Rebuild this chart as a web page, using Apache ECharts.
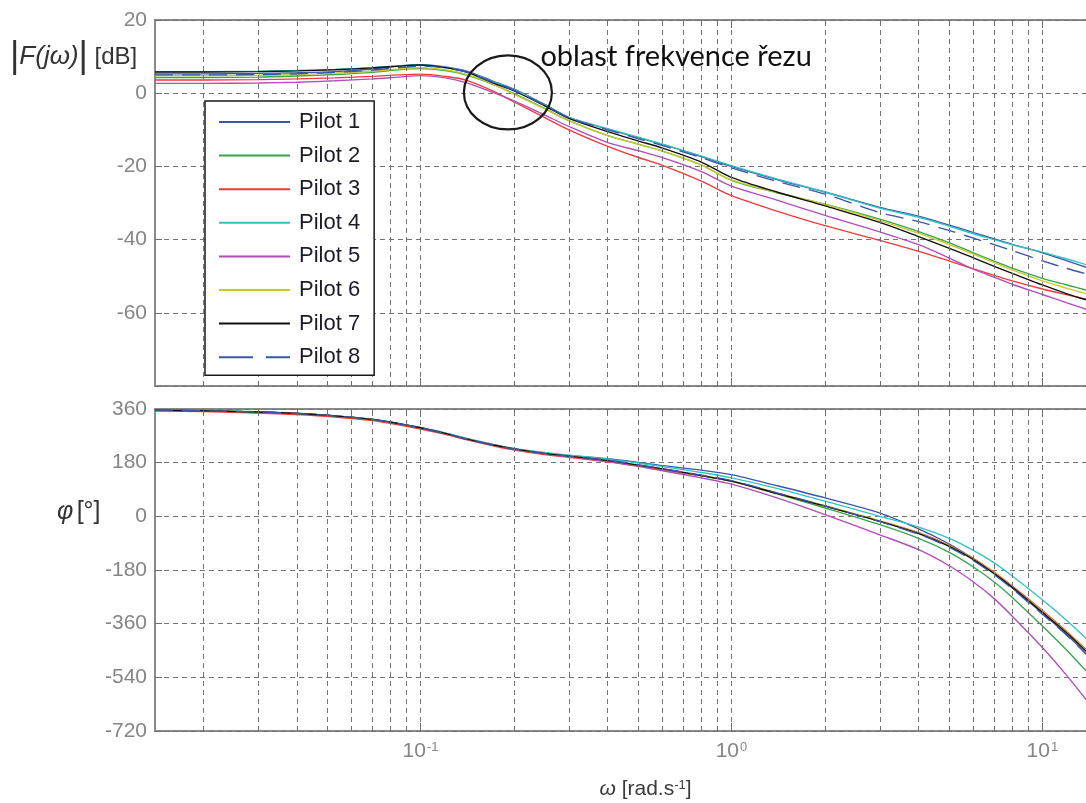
<!DOCTYPE html>
<html>
<head>
<meta charset="utf-8">
<script src="https://cdn.jsdelivr.net/npm/echarts@6/dist/echarts.min.js"></script>
<style>
  html, body { margin: 0; padding: 0; background: #ffffff; }
  #chart { width: 1086px; height: 803px; }
</style>
</head>
<body>
<div id="chart"></div>
<script>
// Angular frequency samples [rad/s]
const omega = [0.014, 0.02, 0.03, 0.04, 0.053, 0.07, 0.085, 0.1, 0.12, 0.14, 0.17, 0.2, 0.25, 0.3,
               0.4, 0.5, 0.6, 0.8, 1, 1.4, 2, 3, 4, 5, 6, 7, 8, 10, 12, 14];

const pilotNames = ['Pilot 1', 'Pilot 2', 'Pilot 3', 'Pilot 4', 'Pilot 5', 'Pilot 6', 'Pilot 7', 'Pilot 8'];
const pilotColors = ['#3c55a8', '#36a64a', '#f03a3a', '#33c2c2', '#b24cb8', '#c9c92a', '#111111', '#3c55a8'];

// Amplitude |F(jw)| [dB]
const magPilot1 = [5.3, 5.3, 5.4, 5.6, 5.9, 6.6, 7.4, 7.8, 7.2, 6.1, 3.4, 1.1, -3.0, -6.6,
                   -9.8, -12.1, -14.0, -17.3, -20.0, -23.6, -27.0, -31.2, -33.6, -36.0, -38.1, -39.8, -41.3, -43.6, -45.8, -47.7];
const magPilot2 = [4.3, 4.3, 4.4, 4.7, 5.1, 5.7, 6.4, 6.7, 6.2, 5.0, 2.5, -0.1, -4.1, -7.5,
                   -11.6, -13.9, -15.8, -19.6, -23.8, -27.2, -30.3, -34.4, -37.8, -40.8, -43.6, -45.9, -47.8, -50.6, -52.4, -53.9];
const magPilot3 = [3.6, 3.6, 3.7, 3.9, 4.2, 4.6, 5.0, 5.2, 4.6, 3.6, 0.7, -2.4, -6.6, -10.0,
                   -14.5, -17.5, -19.7, -24.0, -28.0, -32.2, -36.2, -40.2, -43.2, -45.8, -48.0, -49.8, -51.3, -53.5, -55.1, -56.4];
const magPilot4 = [5.9, 5.9, 6.0, 6.2, 6.5, 7.0, 7.5, 7.8, 7.0, 5.9, 3.2, 1.0, -3.1, -6.6,
                   -9.7, -12.0, -13.9, -17.2, -19.8, -23.4, -27.0, -31.4, -33.9, -36.3, -38.4, -40.0, -41.4, -43.4, -45.3, -47.0];
const magPilot5 = [2.7, 2.7, 2.8, 3.0, 3.4, 3.9, 4.4, 4.8, 4.2, 2.9, 0.3, -2.1, -5.9, -9.1,
                   -13.5, -15.7, -17.6, -21.4, -25.4, -29.2, -33.4, -37.9, -41.4, -45.0, -48.1, -50.3, -52.2, -55.0, -57.3, -59.2];
const magPilot6 = [4.8, 4.8, 4.9, 5.1, 5.5, 6.0, 6.6, 7.0, 6.4, 5.2, 2.6, -0.3, -4.2, -7.5,
                   -11.6, -13.9, -15.8, -19.6, -23.7, -27.1, -30.4, -34.8, -38.3, -41.3, -44.0, -46.3, -48.3, -51.3, -53.3, -54.9];
const magPilot7 = [5.8, 5.8, 5.9, 6.1, 6.4, 6.9, 7.4, 7.7, 7.0, 5.8, 2.9, 0.6, -3.4, -6.9,
                   -10.5, -13.0, -15.0, -18.8, -23.0, -27.0, -30.8, -35.3, -39.2, -42.3, -45.0, -47.3, -49.2, -52.4, -54.8, -56.6];
const magPilot8 = [5.0, 5.0, 5.1, 5.3, 5.7, 6.3, 7.0, 7.4, 6.9, 5.8, 3.1, 0.8, -3.2, -6.7,
                   -10.0, -12.4, -14.3, -17.6, -20.4, -24.1, -27.6, -32.6, -35.1, -37.5, -39.6, -41.4, -43.0, -45.8, -47.9, -49.5];

// Phase φ [deg]
const phasePilot1 = [356, 354, 350, 345, 337, 325, 311, 297, 279, 261, 241, 227, 213, 204,
                     193, 181, 170, 155, 140, 103, 62, 11, -42, -92, -142, -192, -240, -325, -398, -466];
const phasePilot2 = [356, 354, 350, 345, 337, 325, 311, 296, 277, 259, 239, 225, 210, 201,
                     186, 171, 157, 136, 117, 75, 28, -28, -74, -120, -170, -220, -272, -368, -450, -525];
const phasePilot3 = [353, 351, 346, 341, 333, 321, 307, 293, 275, 257, 237, 222, 207, 198,
                     183, 169, 156, 136, 118, 77, 34, -16, -55, -97, -142, -188, -234, -316, -387, -452];
const phasePilot4 = [357, 355, 351, 346, 338, 326, 312, 298, 280, 262, 242, 228, 214, 205,
                     192, 179, 167, 147, 129, 94, 51, 0, -36, -73, -114, -156, -200, -280, -350, -415];
const phasePilot5 = [356, 354, 350, 345, 337, 325, 311, 297, 278, 260, 240, 225, 210, 200,
                     184, 168, 153, 129, 108, 62, 6, -62, -112, -165, -220, -276, -335, -440, -535, -622];
const phasePilot6 = [356, 354, 350, 345, 337, 325, 311, 297, 278, 260, 240, 226, 211, 202,
                     187, 172, 159, 137, 119, 79, 36, -15, -56, -98, -143, -189, -236, -319, -390, -455];
const phasePilot7 = [356, 354, 350, 345, 337, 325, 311, 297, 278, 260, 240, 226, 211, 202,
                     187, 172, 159, 137, 118, 77, 34, -17, -58, -100, -145, -192, -238, -322, -392, -458];
const phasePilot8 = [356, 354, 350, 345, 337, 325, 311, 297, 278, 260, 240, 226, 211, 202,
                     188, 173, 160, 138, 120, 79, 35, -18, -60, -103, -149, -196, -243, -328, -400, -468];

// Log-grid frequencies (2..9 x decade, plus decades)
const gridOmega = [0.02, 0.03, 0.04, 0.05, 0.06, 0.07, 0.08, 0.09, 0.1,
                   0.2, 0.3, 0.4, 0.5, 0.6, 0.7, 0.8, 0.9, 1,
                   2, 3, 4, 5, 6, 7, 8, 9, 10];
const decadeOmega = [0.1, 1, 10];

const magTicks = { min: -80, max: 20, step: 20 };
const phaseTicks = { min: -720, max: 360, step: 180 };
const omegaRange = { min: 0.014, max: 20 };

const magData = [magPilot1, magPilot2, magPilot3, magPilot4, magPilot5, magPilot6, magPilot7, magPilot8];
const phaseData = [phasePilot1, phasePilot2, phasePilot3, phasePilot4, phasePilot5, phasePilot6, phasePilot7, phasePilot8];

const FONT = '"Liberation Sans", Arial, Helvetica, sans-serif';
const GRID_COLOR = '#747474';
const TICK_COLOR = '#6e6e6e';
const DASH = [5, 4];

// Panel layout (pixels)
const PANEL_LEFT = 155;
const PANEL_WIDTH = 981;
const MAG_PANEL = { top: 20, height: 366 };
const PHASE_PANEL = { top: 409, height: 322 };

const chart = echarts.init(document.getElementById('chart'), null, { renderer: 'canvas' });

// Dashed log grid plus short solid tick marks on the top and bottom frame edges
function gridLineSeries(idx, yRange, panelHeight) {
  const perPx = (yRange.max - yRange.min) / panelHeight;
  const items = gridOmega.map(v => ({ xAxis: v }));
  gridOmega.forEach(v => {
    const len = (decadeOmega.indexOf(v) >= 0 ? 8 : 5) * perPx;
    const solid = { type: 'solid', color: TICK_COLOR, width: 1 };
    items.push([{ coord: [v, yRange.max], lineStyle: solid }, { coord: [v, yRange.max - len] }]);
    items.push([{ coord: [v, yRange.min], lineStyle: solid }, { coord: [v, yRange.min + len] }]);
  });
  return {
    type: 'line',
    xAxisIndex: idx,
    yAxisIndex: idx,
    data: [],
    silent: true,
    z: 1,
    animation: false,
    markLine: {
      silent: true,
      animation: false,
      symbol: ['none', 'none'],
      label: { show: false },
      emphasis: { disabled: true },
      lineStyle: { color: GRID_COLOR, width: 1, type: DASH },
      data: items
    }
  };
}

const series = [
  gridLineSeries(0, magTicks, MAG_PANEL.height),
  gridLineSeries(1, phaseTicks, PHASE_PANEL.height)
];
pilotNames.forEach((name, i) => {
  const lineStyle = { color: pilotColors[i], width: 1.35, type: i === 7 ? [18, 9] : 'solid' };
  series.push({
    name, type: 'line', xAxisIndex: 0, yAxisIndex: 0,
    data: omega.map((w, k) => [w, magData[i][k]]),
    symbol: 'none', showSymbol: false, smooth: 0.3,
    lineStyle, itemStyle: { color: pilotColors[i] }, z: 3, animation: false
  });
  series.push({
    name, type: 'line', xAxisIndex: 1, yAxisIndex: 1,
    data: omega.map((w, k) => [w, phaseData[i][k]]),
    symbol: 'none', showSymbol: false, smooth: 0.3,
    lineStyle, itemStyle: { color: pilotColors[i] }, z: 3, animation: false
  });
});

function decadeLabel(v) {
  const lg = Math.log10(v);
  const e = Math.round(lg);
  if (Math.abs(lg - e) > 1e-6) return '';
  return '{b|10}{s|' + e + '}';
}

const xAxisCommon = {
  type: 'log',
  logBase: 10,
  min: omegaRange.min,
  max: omegaRange.max,
  axisLine: { show: false },
  axisTick: { show: false },
  splitLine: { show: false }
};

const yAxisCommon = {
  type: 'value',
  axisLine: { show: false },
  axisTick: { show: true, inside: true, length: 7, lineStyle: { color: TICK_COLOR, width: 1 } },
  splitLine: { show: true, lineStyle: { color: GRID_COLOR, width: 1, type: DASH } },
  axisLabel: { color: '#858585', fontSize: 21, fontFamily: FONT, margin: 8 }
};

// Plot frames run past the right edge of the canvas
const gridCommon = {
  left: PANEL_LEFT, width: PANEL_WIDTH, show: true, borderColor: '#8a8a8a', borderWidth: 2,
  backgroundColor: 'transparent', containLabel: false, outerBoundsMode: 'none'
};

const option = {
  backgroundColor: '#ffffff',
  animation: false,
  grid: [
    Object.assign({}, gridCommon, MAG_PANEL),
    Object.assign({}, gridCommon, PHASE_PANEL)
  ],
  xAxis: [
    Object.assign({}, xAxisCommon, { gridIndex: 0, axisLabel: { show: false } }),
    Object.assign({}, xAxisCommon, {
      gridIndex: 1,
      axisLabel: {
        show: true, margin: 10, color: '#858585', fontFamily: FONT,
        showMinLabel: false, showMaxLabel: false,
        formatter: decadeLabel,
        rich: {
          b: { fontSize: 21, fontFamily: FONT, color: '#858585' },
          s: { fontSize: 13, fontFamily: FONT, color: '#858585', verticalAlign: 'top', padding: [0, 0, 0, 1] }
        }
      },
      name: '{w|ω} [rad.s{s|-1}]',
      nameLocation: 'middle',
      nameGap: 48,
      nameTextStyle: {
        fontSize: 21, fontFamily: FONT, color: '#3a3a3a',
        rich: {
          w: { fontSize: 21, fontFamily: FONT, fontStyle: 'italic', color: '#3a3a3a' },
          s: { fontSize: 13, fontFamily: FONT, color: '#3a3a3a', verticalAlign: 'top' }
        }
      }
    })
  ],
  yAxis: [
    Object.assign({}, yAxisCommon, {
      gridIndex: 0, min: magTicks.min, max: magTicks.max, interval: magTicks.step,
      axisLabel: Object.assign({}, yAxisCommon.axisLabel, {
        formatter: v => (v === magTicks.min ? '' : String(v))
      })
    }),
    Object.assign({}, yAxisCommon, {
      gridIndex: 1, min: phaseTicks.min, max: phaseTicks.max, interval: phaseTicks.step
    })
  ],
  legend: {
    show: true,
    orient: 'vertical',
    left: 205,
    top: 101,
    z: 20,
    padding: [10, 14, 7, 13],
    itemWidth: 71,
    itemHeight: 22,
    itemGap: 11.6,
    backgroundColor: '#ffffff',
    borderColor: '#1a1a1a',
    borderWidth: 1.5,
    borderRadius: 0,
    selectedMode: false,
    itemStyle: { opacity: 0 },
    textStyle: { fontFamily: FONT, fontSize: 22, color: '#1c1c26', padding: [0, 0, 0, 4] },
    data: pilotNames.map((n, i) => (i === 7 ? { name: n, lineStyle: { type: [34, 13] } } : n))
  },
  series
};

chart.setOption(option);

// Annotations: crossover-region ellipse and its caption, placed in data units
const ellipseCenter = chart.convertToPixel({ gridIndex: 0 }, [0.191, 0.2]);
const captionAnchor = chart.convertToPixel({ gridIndex: 0 }, [0.243, 10.0]);

chart.setOption({
  graphic: [
    {
      type: 'ellipse',
      z: 30,
      shape: { cx: ellipseCenter[0], cy: ellipseCenter[1], rx: 44, ry: 37 },
      style: { fill: 'none', stroke: '#1a1a1a', lineWidth: 2.2 }
    },
    {
      type: 'text',
      z: 30,
      x: captionAnchor[0],
      y: captionAnchor[1],
      style: {
        text: 'oblast frekvence řezu',
        fontFamily: 'Lato, "Open Sans", sans-serif',
        fontSize: 29,
        fill: '#111111',
        align: 'left',
        verticalAlign: 'middle'
      }
    },
    {
      type: 'text',
      z: 30,
      x: 10,
      y: 57,
      style: {
        text: '{bar||}{it|F(jω)}{bar||}{n| [dB]}',
        verticalAlign: 'middle',
        rich: {
          bar: { fontSize: 36, fontFamily: FONT, fill: '#333333' },
          it: { fontSize: 26, fontFamily: FONT, fontStyle: 'italic', fill: '#333333' },
          n: { fontSize: 24, fontFamily: FONT, fill: '#333333' }
        }
      }
    },
    {
      type: 'text',
      z: 30,
      x: 57,
      y: 512,
      style: {
        text: '{it|φ} {n|[°]}',
        verticalAlign: 'middle',
        rich: {
          it: { fontSize: 25, fontFamily: FONT, fontStyle: 'italic', fill: '#333333' },
          n: { fontSize: 25, fontFamily: FONT, fill: '#333333' }
        }
      }
    }
  ]
});
</script>
</body>
</html>
